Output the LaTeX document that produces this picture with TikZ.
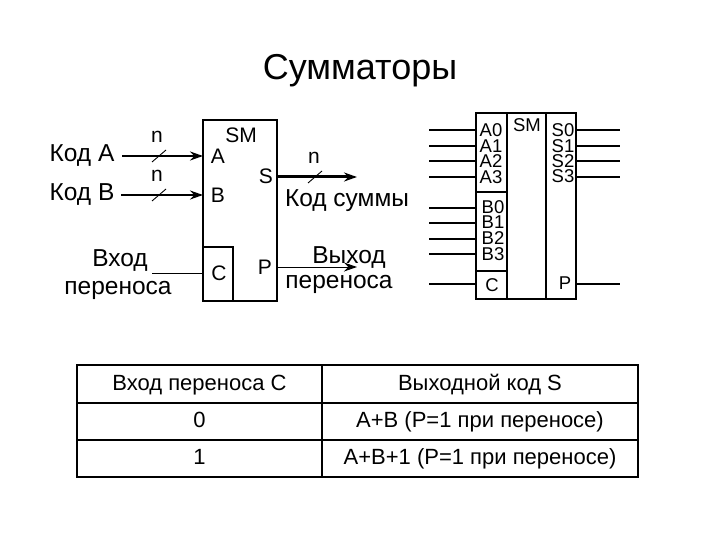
\documentclass[tikz,border=0pt]{standalone}
\usepackage{fontspec}
\setmainfont{Liberation Sans}
\usetikzlibrary{arrows.meta,positioning}

\begin{document}
\begin{tikzpicture}[
  x=1pt, y=-1pt,
  block/.style={rectangle, draw, line width=1.3pt, inner sep=0pt, outer sep=0pt},
  cell/.style={rectangle, draw, line width=1.4pt, inner sep=0pt, outer sep=0pt, text height=16pt, text depth=4pt, font=\fontsize{22}{24}\selectfont},
  lbl/.style={inner sep=0pt, font=\fontsize{24.5}{27}\selectfont},
  pinlbl/.style={inner sep=0pt, font=\fontsize{21}{23}\selectfont},
  biglbl/.style={inner sep=0pt, font=\fontsize{18.5}{20}\selectfont},
  busarrow/.style={-{Stealth[length=13pt,width=9pt]}, line width=2.4pt},
  arrow/.style={-{Stealth[length=13pt,width=9pt]}, line width=1pt},
  wire/.style={line width=1.2pt},
  tick/.style={line width=0.9pt},
]
\useasboundingbox (0,0) rectangle (720,540);

\node[inner sep=0pt, font=\fontsize{36}{40}\selectfont] (title) at (360,71) {Сумматоры};

% Left block
\node[block, minimum width=74pt, minimum height=181pt] (sm) at (240,210.5) {};
\node[block, minimum width=30pt, minimum height=54pt] (csub) at (218,274) {};
\node[pinlbl] (smlbl) at (241,135) {SM};
\node[pinlbl] (pA) at (218,156) {A};
\node[pinlbl] (pB) at (218,195) {B};
\node[pinlbl] (pS) at (266,176) {S};
\node[pinlbl] (pC) at (219,273) {C};
\node[pinlbl] (pP) at (265,267) {P};

\node[lbl] (codeA) at (82,156) {Код A};
\node[lbl] (codeB) at (82,195) {Код B};
\node[lbl] (carin1) at (120,261) {Вход};
\node[lbl] (carin2) at (118,290) {переноса};
\node[lbl] (sumlbl) at (347,201) {Код суммы};
\node[lbl] (carout1) at (349,258) {Выход};
\node[lbl] (carout2) at (339,284) {переноса};
\node[pinlbl] (nA) at (157,137) {n};
\node[pinlbl] (nB) at (157,176) {n};
\node[pinlbl] (nS) at (314,158) {n};

\coordinate (startA) at (122,156);
\coordinate (startB) at (121,195);
\coordinate (startC) at (152,273);
\coordinate (endS) at (357,177);
\coordinate (endP) at (357,267);
\coordinate (tickA) at (159,156);
\coordinate (tickB) at (159,195);
\coordinate (tickS) at (315,177);

% Arrows of the left block
\draw[busarrow] (startA) -- (startA -| sm.west);
\draw[busarrow, line width=2pt] (startB) -- (startB -| sm.west);
\draw[busarrow, line width=3pt] (endS -| sm.east) -- (endS);
\draw[arrow] (endP -| sm.east) -- (endP);
\draw[wire, line width=1pt] (startC) -- (startC -| sm.west);
\draw[tick] ([shift={(-7,6)}]tickA) -- ([shift={(7,-6)}]tickA);
\draw[tick] ([shift={(-7,6)}]tickB) -- ([shift={(7,-6)}]tickB);
\draw[tick] ([shift={(-7,6)}]tickS) -- ([shift={(7,-6)}]tickS);

% Right block
\node[block, minimum width=31pt, minimum height=79pt] (ablock) at (491.5,152.5) {};
\node[block, minimum width=31pt, minimum height=79pt] (bblock) at (491.5,231.5) {};
\node[block, minimum width=31pt, minimum height=28pt] (cblock) at (491.5,285) {};
\node[block, minimum width=39pt, minimum height=186pt] (midblock) at (526.5,206) {};
\node[block, minimum width=30pt, minimum height=186pt] (outblock) at (561,206) {};

\node[biglbl] (a0) at (491,130) {A0};
\node[biglbl] (a1) at (491,146) {A1};
\node[biglbl] (a2) at (491,161) {A2};
\node[biglbl] (a3) at (491,177) {A3};
\node[biglbl] (b0) at (493,207) {B0};
\node[biglbl] (b1) at (493,222) {B1};
\node[biglbl] (b2) at (493,238) {B2};
\node[biglbl] (b3) at (493,254) {B3};
\node[biglbl] (clbl) at (492,285) {C};
\node[biglbl] (smrlbl) at (527,125) {SM};
\node[biglbl] (s0) at (563,130) {S0};
\node[biglbl] (s1) at (563,146) {S1};
\node[biglbl] (s2) at (563,161) {S2};
\node[biglbl] (s3) at (563,176) {S3};
\node[biglbl] (plbl) at (565,283) {P};

\coordinate (la0) at (429,130);
\coordinate (la1) at (429,146);
\coordinate (la2) at (429,161);
\coordinate (la3) at (429,177);
\coordinate (lb0) at (429,208);
\coordinate (lb1) at (429,223);
\coordinate (lb2) at (429,239);
\coordinate (lb3) at (429,254);
\coordinate (lc) at (429,284);
\coordinate (rs0) at (620,130);
\coordinate (rs1) at (620,146);
\coordinate (rs2) at (620,161);
\coordinate (rs3) at (620,177);
\coordinate (rp) at (620,284);

% Wires of the right block
\draw[wire] (la0) -- (la0 -| ablock.west);
\draw[wire] (la1) -- (la1 -| ablock.west);
\draw[wire] (la2) -- (la2 -| ablock.west);
\draw[wire] (la3) -- (la3 -| ablock.west);
\draw[wire] (lb0) -- (lb0 -| bblock.west);
\draw[wire] (lb1) -- (lb1 -| bblock.west);
\draw[wire] (lb2) -- (lb2 -| bblock.west);
\draw[wire] (lb3) -- (lb3 -| bblock.west);
\draw[wire] (lc) -- (lc -| cblock.west);
\draw[wire] (rs0 -| outblock.east) -- (rs0);
\draw[wire] (rs1 -| outblock.east) -- (rs1);
\draw[wire] (rs2 -| outblock.east) -- (rs2);
\draw[wire] (rs3 -| outblock.east) -- (rs3);
\draw[wire] (rp -| outblock.east) -- (rp);

% Table
\node[cell, minimum width=245pt, minimum height=38pt] (t11) at (199.5,384) {Вход переноса C};
\node[cell, minimum width=316pt, minimum height=38pt] (t12) at (480,384) {Выходной код S};
\node[cell, minimum width=245pt, minimum height=37pt] (t21) at (199.5,421.5) {0};
\node[cell, minimum width=316pt, minimum height=37pt] (t22) at (480,421.5) {A+B (P=1 при переносе)};
\node[cell, minimum width=245pt, minimum height=37pt] (t31) at (199.5,458.5) {1};
\node[cell, minimum width=316pt, minimum height=37pt] (t32) at (480,458.5) {A+B+1 (P=1 при переносе)};
\end{tikzpicture}
\end{document}
